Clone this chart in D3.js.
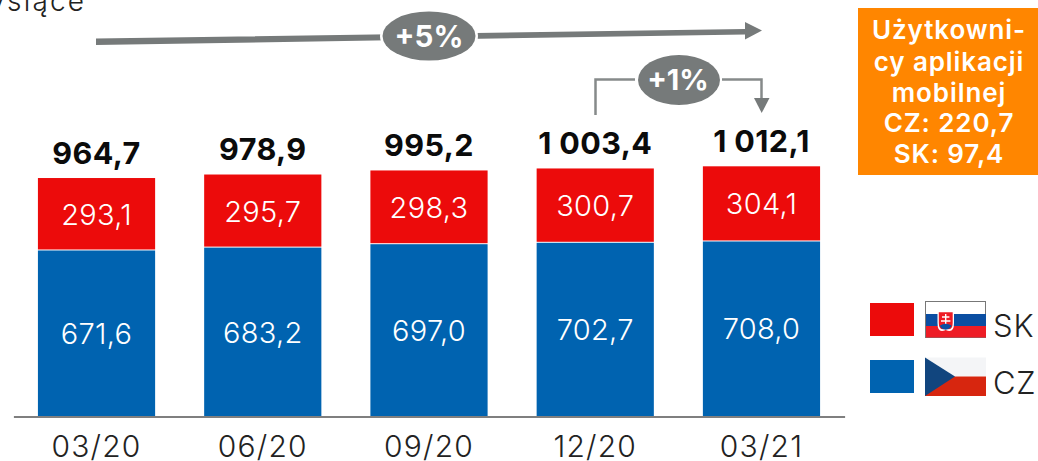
<!DOCTYPE html>
<html><head><meta charset="utf-8">
<script src="https://cdn.jsdelivr.net/npm/d3@7/dist/d3.min.js"></script>
<style>html,body{margin:0;padding:0;background:#fff}svg{display:block}text{font-family:Inter,sans-serif}</style>
</head><body><svg id="c" width="1038" height="461"></svg>
<script>
const categories=["03/20","06/20","09/20","12/20","03/21"];
const cz=[671.6,683.2,697.0,702.7,708.0];
const sk=[293.1,295.7,298.3,300.7,304.1];
const totalLabels=["964,7","978,9","995,2","1 003,4","1 012,1"];
const czLabels=["671,6","683,2","697,0","702,7","708,0"];
const skLabels=["293,1","295,7","298,3","300,7","304,1"];
const boxLines=["Użytkowni-","cy aplikacji","mobilnej","CZ: 220,7","SK: 97,4"];
const RED="#EC0B0B",BLUE="#0063B0",GREY="#767A7A";
const svg=d3.select("#c");
const x=d3.scaleBand().domain(categories).range([13.4,844.6]).paddingInner(.295).paddingOuter(.1475);
const y=d3.scaleLinear().domain([0,1000]).range([416,168.8]);
const W=x.bandwidth();
const txt=(s,px,py,size,o={})=>svg.append("text").attr("x",px).attr("y",py).attr("font-size",size)
 .attr("text-anchor",o.anchor||"middle").attr("font-weight",o.weight||400).attr("fill",o.fill||"#111")
 .attr("letter-spacing",o.ls||0).text(s);

// header unit (clipped at the top of the frame)
txt("Tysiące",-29,11,28,{anchor:"start",fill:"#222",ls:2.2,weight:300});

// stacked bars
categories.forEach((c,i)=>{
  svg.append("rect").attr("x",x(c)).attr("width",W).attr("y",y(cz[i])+.5).attr("height",y(0)-y(cz[i])-.5).attr("fill",BLUE);
  svg.append("rect").attr("x",x(c)).attr("width",W).attr("y",y(cz[i]+sk[i])+.5).attr("height",y(0)-y(sk[i])-1).attr("fill",RED);
  const m=x(c)+W/2;
  txt(skLabels[i],m,y(cz[i]+sk[i]/2)+11,29,{fill:"#fff",ls:.3,weight:300});
  txt(czLabels[i],m,y(cz[i]/2)+11,29,{fill:"#fff",ls:.3,weight:300});
  txt(totalLabels[i],m,y(cz[i]+sk[i])-14,30.5,{weight:700,fill:"#0b0b0b",ls:.4});
});

// category axis
const ax=svg.append("g").attr("transform","translate(0,416.5)").call(d3.axisBottom(x).tickSize(0).tickPadding(0));
ax.select(".domain").attr("stroke","#7f7f7f").attr("stroke-width",2);
ax.selectAll("text").remove();
categories.forEach(c=>txt(c,x(c)+W/2,457,30,{fill:"#222",ls:1.2,weight:300}));

// +5% trend arrow
svg.append("polygon").attr("points","96,38.5 745,29 745,22 762,30.5 745,39.5 745,34.5 96,45").attr("fill",GREY);
svg.append("ellipse").attr("cx",429).attr("cy",36).attr("rx",49).attr("ry",26).attr("fill","#fff");
svg.append("ellipse").attr("cx",429).attr("cy",36).attr("rx",46.5).attr("ry",24.5).attr("fill",GREY);
txt("+5%",429,47,29.5,{weight:700,fill:"#fff"});

// +1% bracket arrow
svg.append("path").attr("d","M595.5,115V79.5H635").attr("fill","none").attr("stroke","#868a8a").attr("stroke-width",2.5);
svg.append("path").attr("d","M722,79.5H761.5V98").attr("fill","none").attr("stroke","#868a8a").attr("stroke-width",2.5);
svg.append("polygon").attr("points","754,98 769.5,98 761.7,113").attr("fill",GREY);
svg.append("ellipse").attr("cx",679).attr("cy",80).attr("rx",41).attr("ry",25).attr("fill",GREY);
txt("+1%",678,90,29,{weight:700,fill:"#fff"});

// orange box
svg.append("rect").attr("x",858).attr("y",8).attr("width",180).attr("height",167).attr("fill","#FF8600");
boxLines.forEach((s,i)=>txt(s,949,[39,71,102,132,163][i],26,{weight:600,fill:"#fff",ls:.9}));

// legend
svg.append("rect").attr("x",870).attr("y",303).attr("width",44).attr("height",33).attr("fill",RED);
svg.append("rect").attr("x",870).attr("y",360).attr("width",44).attr("height",33).attr("fill",BLUE);

// SK flag
const f=svg.append("g");
f.append("rect").attr("x",925.5).attr("y",301.5).attr("width",60).attr("height",36).attr("fill","#fff").attr("stroke","#777");
f.append("rect").attr("x",926).attr("y",314).attr("width",60).attr("height",12).attr("fill","#0B4EA2");
f.append("rect").attr("x",926).attr("y",326).attr("width",60).attr("height",11.5).attr("fill","#EE1C25");
f.append("path").attr("d","M937.5,311H954V323Q954,334 945.7,330 Q937.5,334 937.5,323Z").attr("fill","#fff");
f.append("path").attr("d","M938.8,312.3H952.7V323Q952.7,331 945.7,328.8Q938.8,331 938.8,323Z").attr("fill","#EE1C25");
f.append("path").attr("d","M945.7,314V326M942,317H949.4M941,321H950.4").attr("stroke","#fff").attr("stroke-width",1.4).attr("fill","none");
f.append("path").attr("d","M940,325.5Q945.7,322 951.5,325.5V326Q950,329 945.7,329.8Q941,329 940,326Z").attr("fill","#0B4EA2");

// CZ flag
const g=svg.append("g");
g.append("rect").attr("x",925).attr("y",357.5).attr("width",61).attr("height",19).attr("fill","#F4F5F7");
g.append("rect").attr("x",925).attr("y",376.5).attr("width",61).attr("height",19.5).attr("fill","#D7260F");
g.append("polygon").attr("points","925,357.5 955,376.5 925,396").attr("fill","#11457E");

txt("SK",993,337,31,{anchor:"start",fill:"#222",weight:300,ls:.8});
txt("CZ",993,394,31,{anchor:"start",fill:"#222",weight:300,ls:.8});
</script></body></html>
